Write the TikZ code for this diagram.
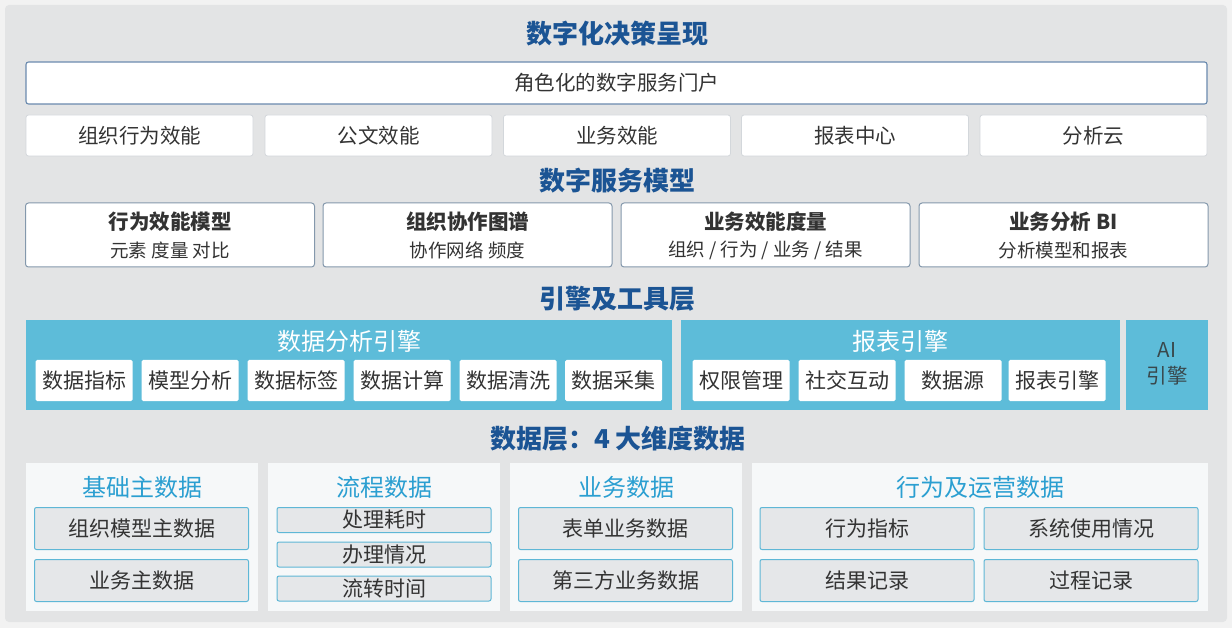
\documentclass[tikz,border=0pt]{standalone}
\usepackage{fontspec}
\setmainfont{Noto Sans CJK SC}
\definecolor{outerbg}{HTML}{F2F2F2}
\definecolor{panelbg}{HTML}{E3E4E5}
\definecolor{titleblue}{HTML}{1B5494}
\definecolor{cyanpanel}{HTML}{5DBCD9}
\definecolor{headcyan}{HTML}{2B9FD1}
\definecolor{txt}{HTML}{333333}
\definecolor{subfill}{HTML}{E5E7E9}
\definecolor{subline}{HTML}{5EB7D6}
\definecolor{portalline}{HTML}{6A8AAE}
\definecolor{rowline}{HTML}{D3D7DB}
\definecolor{modelline}{HTML}{8498AC}
\definecolor{datafill}{HTML}{F6F8F9}
\begin{document}
\begin{tikzpicture}[x=1pt,y=-1pt,
  every node/.style={inner sep=0pt, outer sep=0pt, text=txt},
  sectitle/.style={font=\fontsize{26}{30}\selectfont\bfseries, text=titleblue},
  portal/.style={draw=portalline, line width=1.1pt, fill=white, rounded corners=2.5,
    minimum width=1181, minimum height=42, font=\fontsize{20.5}{24}\selectfont},
  rowbox/.style={draw=rowline, line width=0.8pt, fill=white, rounded corners=2.5,
    minimum width=227, minimum height=41, font=\fontsize{20.5}{24}\selectfont},
  modelbox/.style={draw=modelline, line width=1pt, fill=white, rounded corners=3,
    minimum width=289, minimum height=64},
  mtitle/.style={font=\fontsize{20.5}{24}\selectfont\bfseries},
  msub/.style={font=\fontsize{18.5}{22}\selectfont},
  engine/.style={fill=cyanpanel, minimum height=89},
  etitle/.style={font=\fontsize{24}{28}\selectfont, text=white},
  ebox/.style={fill=white, rounded corners=1.5, minimum height=41, minimum width=97,
    font=\fontsize{21}{24}\selectfont},
  datapanel/.style={fill=datafill, minimum height=148, minimum width=232},
  dhead/.style={font=\fontsize{24}{28}\selectfont, text=headcyan},
  dbox/.style={draw=subline, line width=1pt, fill=subfill, rounded corners=2,
    minimum height=42, minimum width=214, font=\fontsize{21}{24}\selectfont},
  dsmall/.style={dbox, minimum height=25}
]
\useasboundingbox (0,0) rectangle (1232,628);
\fill[outerbg] (0,0) rectangle (1232,628);
\fill[panelbg, rounded corners=4] (5,5) rectangle (1227,622);

% ---- layer 1
\node[sectitle] (t1) at (617,34) {数字化决策呈现};
\node[portal] (portal) at (616.5,83) {角色化的数字服务门户};
\node[rowbox] (r1) at (139.5,135.5) {组织行为效能};
\node[rowbox] (r2) at (378.5,135.5) {公文效能};
\node[rowbox] (r3) at (617,135.5) {业务效能};
\node[rowbox] (r4) at (855,135.5) {报表中心};
\node[rowbox] (r5) at (1093.5,135.5) {分析云};

% ---- layer 2
\node[sectitle] (t2) at (617,181) {数字服务模型};
\node[modelbox] (m1) at (170,235) {};
\node[modelbox] (m2) at (467.5,235) {};
\node[modelbox] (m3) at (765.5,235) {};
\node[modelbox] (m4) at (1063.5,235) {};
\node[mtitle] (m1t) at (170,222) {行为效能模型};
\node[msub]   (m1s) at (170,250) {元素 度量 对比};
\node[mtitle] (m2t) at (467.5,222) {组织协作图谱};
\node[msub]   (m2s) at (467.5,250) {协作网络 频度};
\node[mtitle] (m3t) at (765.5,222) {业务效能度量};
\node[msub]   (m3s) at (765.5,250) {组织 / 行为 / 业务 / 结果};
\node[mtitle] (m4t) at (1063.5,222) {业务分析 BI};
\node[msub]   (m4s) at (1063.5,250) {分析模型和报表};

% ---- layer 3
\node[sectitle] (t3) at (617,299) {引擎及工具层};
\node[engine, minimum width=646] (e1) at (349,365) {};
\node[engine, minimum width=439] (e2) at (900,365) {};
\node[engine, minimum width=82] (e3) at (1167,365) {};
\node[etitle] (e1t) at (349,341) {数据分析引擎};
\node[etitle] (e2t) at (900,341) {报表引擎};
\node[align=center, font=\fontsize{20.5}{26}\selectfont, text=txt!85!cyanpanel] (e3t) at (1167,364) {AI\\引擎};
\node[ebox] (b1) at (84,380.5) {数据指标};
\node[ebox] (b2) at (190,380.5) {模型分析};
\node[ebox] (b3) at (296,380.5) {数据标签};
\node[ebox] (b4) at (402,380.5) {数据计算};
\node[ebox] (b5) at (508,380.5) {数据清洗};
\node[ebox] (b6) at (613.5,380.5) {数据采集};
\node[ebox] (c1) at (741,380.5) {权限管理};
\node[ebox] (c2) at (847,380.5) {社交互动};
\node[ebox] (c3) at (953,380.5) {数据源};
\node[ebox] (c4) at (1057,380.5) {报表引擎};

% ---- layer 4
\node[sectitle] (t4) at (618,439) {数据层：4 大维度数据};
\node[datapanel] (d1) at (142,537) {};
\node[datapanel] (d2) at (384,537) {};
\node[datapanel] (d3) at (626,537) {};
\node[datapanel, minimum width=456] (d4) at (980,537) {};
\node[dhead] (d1h) at (142,487) {基础主数据};
\node[dhead] (d2h) at (384,487) {流程数据};
\node[dhead] (d3h) at (626,487) {业务数据};
\node[dhead] (d4h) at (980,487) {行为及运营数据};
\node[dbox] (x1) at (141.5,528.5) {组织模型主数据};
\node[dbox] (x2) at (141.5,580.5) {业务主数据};
\node[dsmall] (y1) at (384,520) {处理耗时};
\node[dsmall] (y2) at (384,554.5) {办理情况};
\node[dsmall] (y3) at (384,588.5) {流转时间};
\node[dbox] (z1) at (625.5,528.5) {表单业务数据};
\node[dbox] (z2) at (625.5,580.5) {第三方业务数据};
\node[dbox] (w1) at (867,528.5) {行为指标};
\node[dbox] (w2) at (1091,528.5) {系统使用情况};
\node[dbox] (w3) at (867,580.5) {结果记录};
\node[dbox] (w4) at (1091,580.5) {过程记录};
\end{tikzpicture}
\end{document}
